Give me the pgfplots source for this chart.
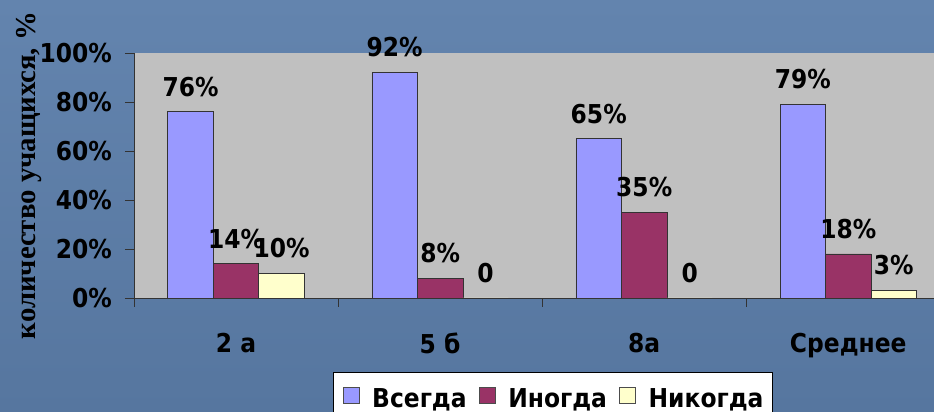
\documentclass[border=0pt]{standalone}
\usepackage{fontspec}
\usepackage{pgfplots}
\pgfplotsset{compat=1.18}
\newfontfamily\labfont[FakeStretch=0.9]{DejaVu Sans}
\newfontfamily\serfont{Liberation Serif}
\definecolor{bgtop}{HTML}{6384AE}
\definecolor{bgbot}{HTML}{56769F}
\definecolor{plotgray}{HTML}{C0C0C0}
\definecolor{barblue}{HTML}{9999FF}
\definecolor{barmaroon}{HTML}{993366}
\definecolor{barcream}{HTML}{FFFFCC}
\newcommand{\lf}{\labfont\bfseries\fontsize{26}{28}\selectfont}
\begin{document}
\begin{tikzpicture}
\shade[top color=bgtop, bottom color=bgbot] (0,0) rectangle (934pt,412pt);
\useasboundingbox (0,0) rectangle (934pt,412pt);
\begin{axis}[
  at={(134pt,114pt)}, anchor=south west,
  scale only axis, width=800pt, height=245pt,
  ybar=0pt, bar width=0.223,
  xmin=-0.5, xmax=3.42, ymin=0, ymax=100,
  axis background/.style={fill=plotgray},
  axis x line*=bottom, axis y line*=left,
  axis line style={draw=black!80, line width=0.8pt},
  tick align=outside, major tick length=9pt, minor tick length=9pt,
  tick style={draw=black!80, line width=0.8pt},
  major x tick style={draw=none},
  ytick={0,20,40,60,80,100},
  yticklabels={0\%,20\%,40\%,60\%,80\%,100\%},
  xtick={0,1,2,3},
  xticklabels={2 а,5 б,8а,Среднее},
  minor xtick={-0.5,0.5,1.5,2.5},
  tick label style={font=\lf, text=black},
  yticklabel style={inner sep=0pt, anchor=east, xshift=-13pt},
  xticklabel style={inner sep=0pt, anchor=north, yshift=-26pt},
  ylabel={количество учащихся, \%},
  ylabel style={font=\serfont\bfseries\fontsize{28.8}{30}\selectfont, at={(axis description cs:-0.123,0.5)}, anchor=base},
  every axis plot/.append style={draw=black!80, line width=0.6pt},
  point meta=explicit symbolic,
  nodes near coords,
  every node near coord/.append style={font=\lf, text=black, inner sep=0pt, anchor=south, yshift=15pt},
  legend columns=3,
  legend image code/.code={\draw[#1, draw=black!70, line width=0.6pt] (0pt,-5pt) rectangle (16pt,11pt);},
  legend style={at={(axis description cs:0.249,-0.302)}, anchor=north west,
    draw=black, line width=0.8pt, fill=white, font=\lf,
    inner xsep=9pt, inner ysep=15pt,
    nodes={inner sep=0pt},
    /tikz/every even column/.append style={column sep=12pt},
    /tikz/every odd column/.append style={column sep=13pt}},
]
\addplot[fill=barblue] coordinates {(0,76) [76\%] (1,92) [92\%] (2,65) [65\%] (3,79) [79\%]};
\addplot[fill=barmaroon] coordinates {(0,14) [14\%] (1,8) [8\%] (2,35) [35\%] (3,18) [18\%]};
\addplot[fill=barcream] coordinates {(0,10) [10\%] (1,0) [0] (2,0) [0] (3,3) [3\%]};
\legend{Всегда,Иногда,Никогда}
\end{axis}
\end{tikzpicture}
\end{document}
